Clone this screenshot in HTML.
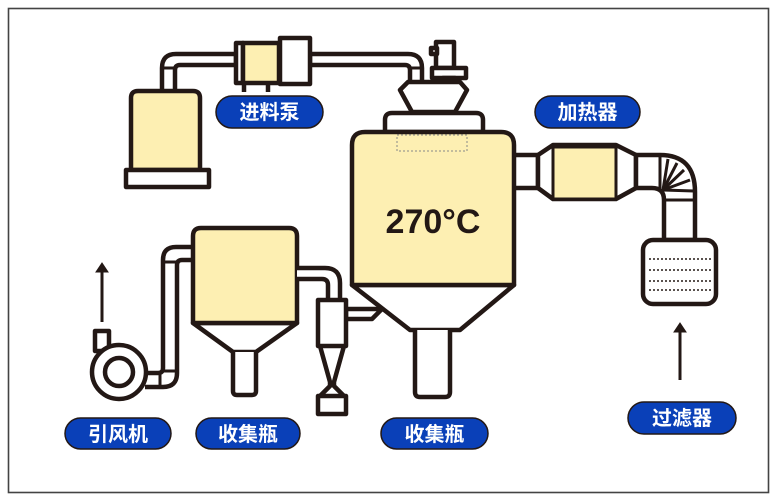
<!DOCTYPE html>
<html><head><meta charset="utf-8"><style>
html,body{margin:0;padding:0;background:#fff;}
svg{display:block;}
text{font-family:"Liberation Sans","Noto Sans CJK SC",sans-serif;}
</style></head><body>
<svg width="776" height="501" viewBox="0 0 776 501" xmlns="http://www.w3.org/2000/svg">
<rect x="0" y="0" width="776" height="501" fill="#fff"/>
<rect x="8.5" y="8.5" width="760" height="484" fill="none" stroke="#444" stroke-width="1.6"/>
<g stroke="#231815" stroke-width="4.5" stroke-linejoin="round" fill="#fff">
<!-- feed pipe -->
<path d="M162 92 V68 Q162 54 176 54 H236 V65 H180 Q175 65 175 70 V92 Z"/>
<line x1="162" y1="68" x2="175" y2="68" stroke-width="3"/>
<path d="M310 54 H408 Q422 54 422 68 V88 H410 V70 Q410 65 405 65 H310 Z"/>
<line x1="410" y1="68" x2="422" y2="68" stroke-width="3"/>
<!-- feed tank -->
<path d="M131 170 V98 Q131 91 138 91 H193 Q200 91 200 98 V170 Z" fill="#fdefb2"/>
<rect x="126" y="170" width="83" height="17"/>
<!-- pump -->
<line x1="244" y1="82" x2="244" y2="92"/>
<line x1="268" y1="82" x2="268" y2="92"/>
<rect x="236" y="43" width="7" height="40"/>
<rect x="243" y="43" width="36" height="40" fill="#fdefb2"/>
<rect x="280" y="38" width="30" height="46"/>
<!-- motor -->
<rect x="436" y="42" width="18" height="26"/>
<rect x="431" y="48" width="6" height="6"/>
<rect x="432" y="68" width="34" height="10"/>
<rect x="443" y="78" width="12" height="8"/>
<!-- funnel -->
<path d="M400 90 L408 82 H460 L467 90 L455 112 H412 Z"/>
<path d="M385 132 V120 Q385 113 392 113 H476 Q483 113 483 120 V132 Z"/>
<!-- heater pipe -->
<rect x="512" y="155" width="26" height="33"/>
<path d="M538 155 L553 145 H616 L636 155 V188 L616 199 H553 L538 188 Z"/>
<rect x="553" y="147" width="63" height="52" fill="#fdefb2" stroke-width="3"/>
<path d="M636 155 H660 Q695 155 695 192 V240 H664 V200 Q664 188 652 188 H636 Z"/>
<g stroke-width="3"><line x1="660" y1="155" x2="660" y2="188"/><line x1="664" y1="200" x2="695" y2="200"/>
<line x1="663" y1="190" x2="668" y2="159"/><line x1="663" y1="190" x2="677" y2="163"/><line x1="663" y1="190" x2="684" y2="170"/><line x1="663" y1="190" x2="690" y2="180"/><line x1="663" y1="190" x2="694" y2="191"/></g>
<!-- filter -->
<rect x="643" y="240" width="73" height="64" rx="10"/>
<!-- main vessel -->
<path d="M352 285 L410 330 H460 L514 285 Z"/>
<path d="M352 285 V145 Q352 132 365 132 H501 Q514 132 514 145 V285 Z" fill="#fdefb2"/>
<path d="M415 330 V392 Q415 397 420 397 H445 Q450 397 450 392 V330"/>
<!-- chamber 1 pipe -->
<path d="M195 247 H176 Q163 247 163 260 V368 Q163 373 158 373 H145" fill="none"/>
<path d="M195 260 H182 Q177 260 177 265 V373 Q177 387 163 387 H145" fill="none"/>
<g stroke-width="3"><line x1="163" y1="262" x2="177" y2="262"/><line x1="163" y1="371" x2="177" y2="371"/><line x1="160" y1="373" x2="160" y2="387"/></g>
<!-- chamber1 -->
<path d="M193 323 L233 352 H256 L297 323 Z"/>
<path d="M193 323 V236 Q193 228 201 228 H289 Q297 228 297 236 V323 Z" fill="#fdefb2"/>
<path d="M233 352 V391 Q233 395 237 395 H252 Q256 395 256 391 V352"/>
<!-- fan -->
<rect x="95" y="331" width="14" height="20"/>
<circle cx="119" cy="372" r="27"/>
<circle cx="119" cy="372" r="14"/>
<!-- chamber1 to cyclone pipe -->
<path d="M297 268 H325 Q340 268 340 283 V302 H328 V285 Q328 279 322 279 H297"/>
<!-- cyclone -->
<path d="M346 309 H382 L372 319 H346 Z"/>
<rect x="318" y="300" width="28" height="46"/>
<path d="M320 346 L330 382 V386 L320 396 M344 346 L334 382 V386 L344 396"/>
<rect x="318" y="396" width="28" height="18"/>
</g>
<rect x="397" y="135" width="70" height="16" fill="none" stroke="#888" stroke-width="1" stroke-dasharray="2,2"/>
<g stroke="#231815" stroke-width="1.5" stroke-dasharray="2,2">
<line x1="649" y1="259" x2="711" y2="259"/><line x1="649" y1="270" x2="711" y2="270"/><line x1="649" y1="281" x2="711" y2="281"/><line x1="649" y1="290" x2="711" y2="290"/>
</g>
<!-- arrows -->
<g stroke="#231815" stroke-width="3" fill="#231815">
<line x1="102" y1="322" x2="102" y2="270"/><path d="M96 272 L102 263 L108 272 Z" stroke-width="1"/>
<line x1="680" y1="380" x2="680" y2="330"/><path d="M674 332 L680 323 L686 332 Z" stroke-width="1"/>
</g>
<text x="433" y="233" text-anchor="middle" font-size="34" font-weight="bold" fill="#231815">270°C</text>
<!-- labels -->
<g stroke="#231815" stroke-width="1.5" fill="#0a40b8">
<rect x="216" y="96" width="107" height="32" rx="16"/>
<rect x="535" y="96" width="105" height="32" rx="16"/>
<rect x="65" y="418" width="106" height="31" rx="15.5"/>
<rect x="196" y="418" width="104" height="31" rx="15.5"/>
<rect x="381" y="418" width="107" height="31" rx="15.5"/>
<rect x="628" y="402" width="108" height="32" rx="16"/>
</g>
<g fill="#fff" font-size="20" font-weight="bold" text-anchor="middle">
<text x="269.5" y="119">进料泵</text>
<text x="587.5" y="119">加热器</text>
<text x="118" y="441">引风机</text>
<text x="248" y="441">收集瓶</text>
<text x="434.5" y="441">收集瓶</text>
<text x="682" y="425">过滤器</text>
</g>
</svg>
</body></html>
